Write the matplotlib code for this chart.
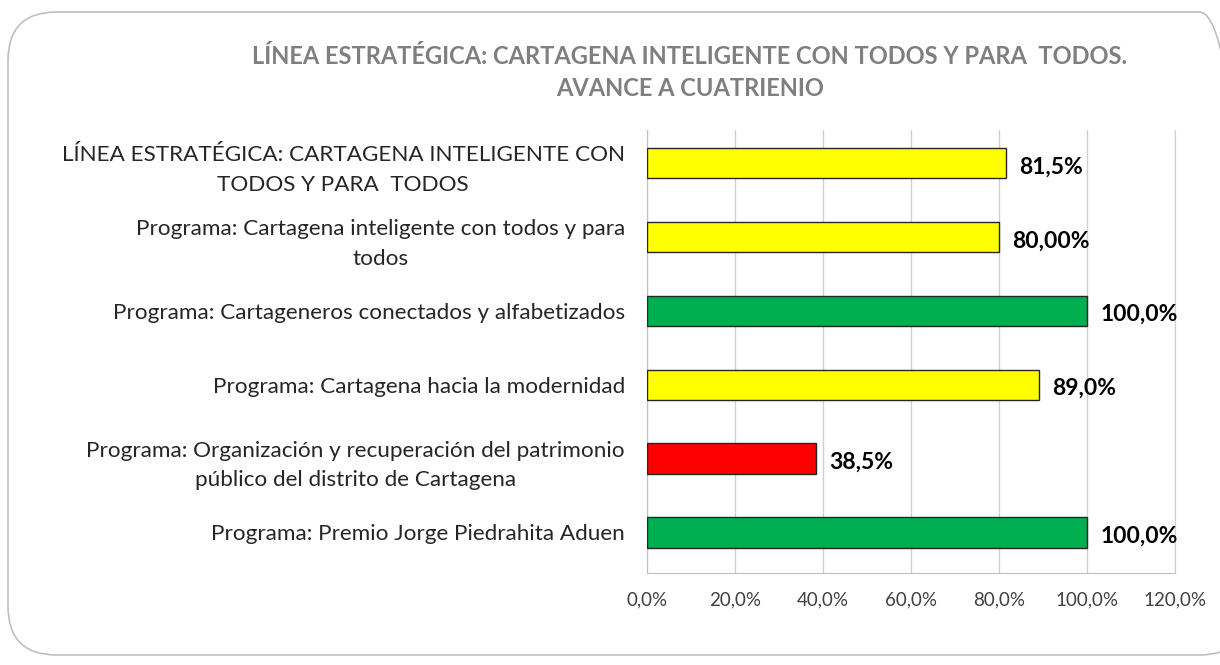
import matplotlib.pyplot as plt
from matplotlib.patches import FancyBboxPatch
from matplotlib.ticker import FuncFormatter
from matplotlib.transforms import ScaledTranslation

plt.rcParams["font.family"] = ["Lato", "DejaVu Sans"]

categories = [
    "LÍNEA ESTRATÉGICA: CARTAGENA INTELIGENTE CON\nTODOS Y PARA  TODOS",
    "Programa: Cartagena inteligente con todos y para\ntodos",
    "Programa: Cartageneros conectados y alfabetizados",
    "Programa: Cartagena hacia la modernidad",
    "Programa: Organización y recuperación del patrimonio\npúblico del distrito de Cartagena",
    "Programa: Premio Jorge Piedrahita Aduen",
]
values = [81.5, 80.0, 100.0, 89.0, 38.5, 100.0]
value_labels = ["81,5%", "80,00%", "100,0%", "89,0%", "38,5%", "100,0%"]
colors = ["#FFFF00", "#FFFF00", "#00B050", "#FFFF00", "#FF0000", "#00B050"]
ticks = [0, 20, 40, 60, 80, 100, 120]

fig = plt.figure(figsize=(12.2, 6.65), dpi=100)

# rounded chart border
fig.patches.append(FancyBboxPatch(
    (8 / 1220, 10 / 665), 1240 / 1220, 643 / 665,
    boxstyle="round,pad=0,rounding_size=0.04", transform=fig.transFigure,
    facecolor="none", edgecolor="#BFBFBF", linewidth=1.2, zorder=-1,
    mutation_aspect=1220 / 665))

ax = fig.add_axes([647 / 1220, 1 - 573 / 665, 528 / 1220, 443 / 665])
ax.set_facecolor("none")

pos = list(range(len(categories)))[::-1]
ax.barh(pos, values, height=0.41, color=colors, edgecolor="#262626",
        linewidth=1.0, zorder=3)
for p, v, lab in zip(pos, values, value_labels):
    ax.text(v + 3.0, p - 0.05, lab, va="center", ha="left",
            fontsize=16.5, fontweight="bold", color="black")

ax.set_xlim(0, 120)
ax.set_ylim(-0.55, 5.45)
ax.set_xticks(ticks)
ax.xaxis.set_major_formatter(FuncFormatter(lambda x, _: f"{x:.1f}%".replace(".", ",")))
ax.set_yticks(pos)
ax.set_yticklabels(categories, fontsize=16.2, color="#262626", ha="right",
                   multialignment="center", linespacing=1.6)
# two-line labels sit a little high in the original
for t in ax.get_yticklabels():
    if "\n" in t.get_text():
        t.set_transform(t.get_transform() + ScaledTranslation(0, 0.05, fig.dpi_scale_trans))
ax.tick_params(axis="y", length=0, pad=16)
ax.tick_params(axis="x", length=0, pad=13, labelsize=13.5, labelcolor="#404040")
ax.grid(axis="x", color="#D0D0D0", linewidth=1, zorder=0)
ax.spines["top"].set_visible(False)
ax.spines["left"].set_color("#BFBFBF")
ax.spines["right"].set_color("#D0D0D0")
ax.spines["bottom"].set_color("#BFBFBF")

fig.text(690 / 1220, 1 - 56 / 665,
         "LÍNEA ESTRATÉGICA: CARTAGENA INTELIGENTE CON TODOS Y PARA  TODOS.",
         ha="center", va="center", fontsize=17, fontweight="bold", color="#7F7F7F")
fig.text(690 / 1220, 1 - 88 / 665, "AVANCE A CUATRIENIO",
         ha="center", va="center", fontsize=17, fontweight="bold", color="#7F7F7F")

fig.savefig("out.png", dpi=100)
